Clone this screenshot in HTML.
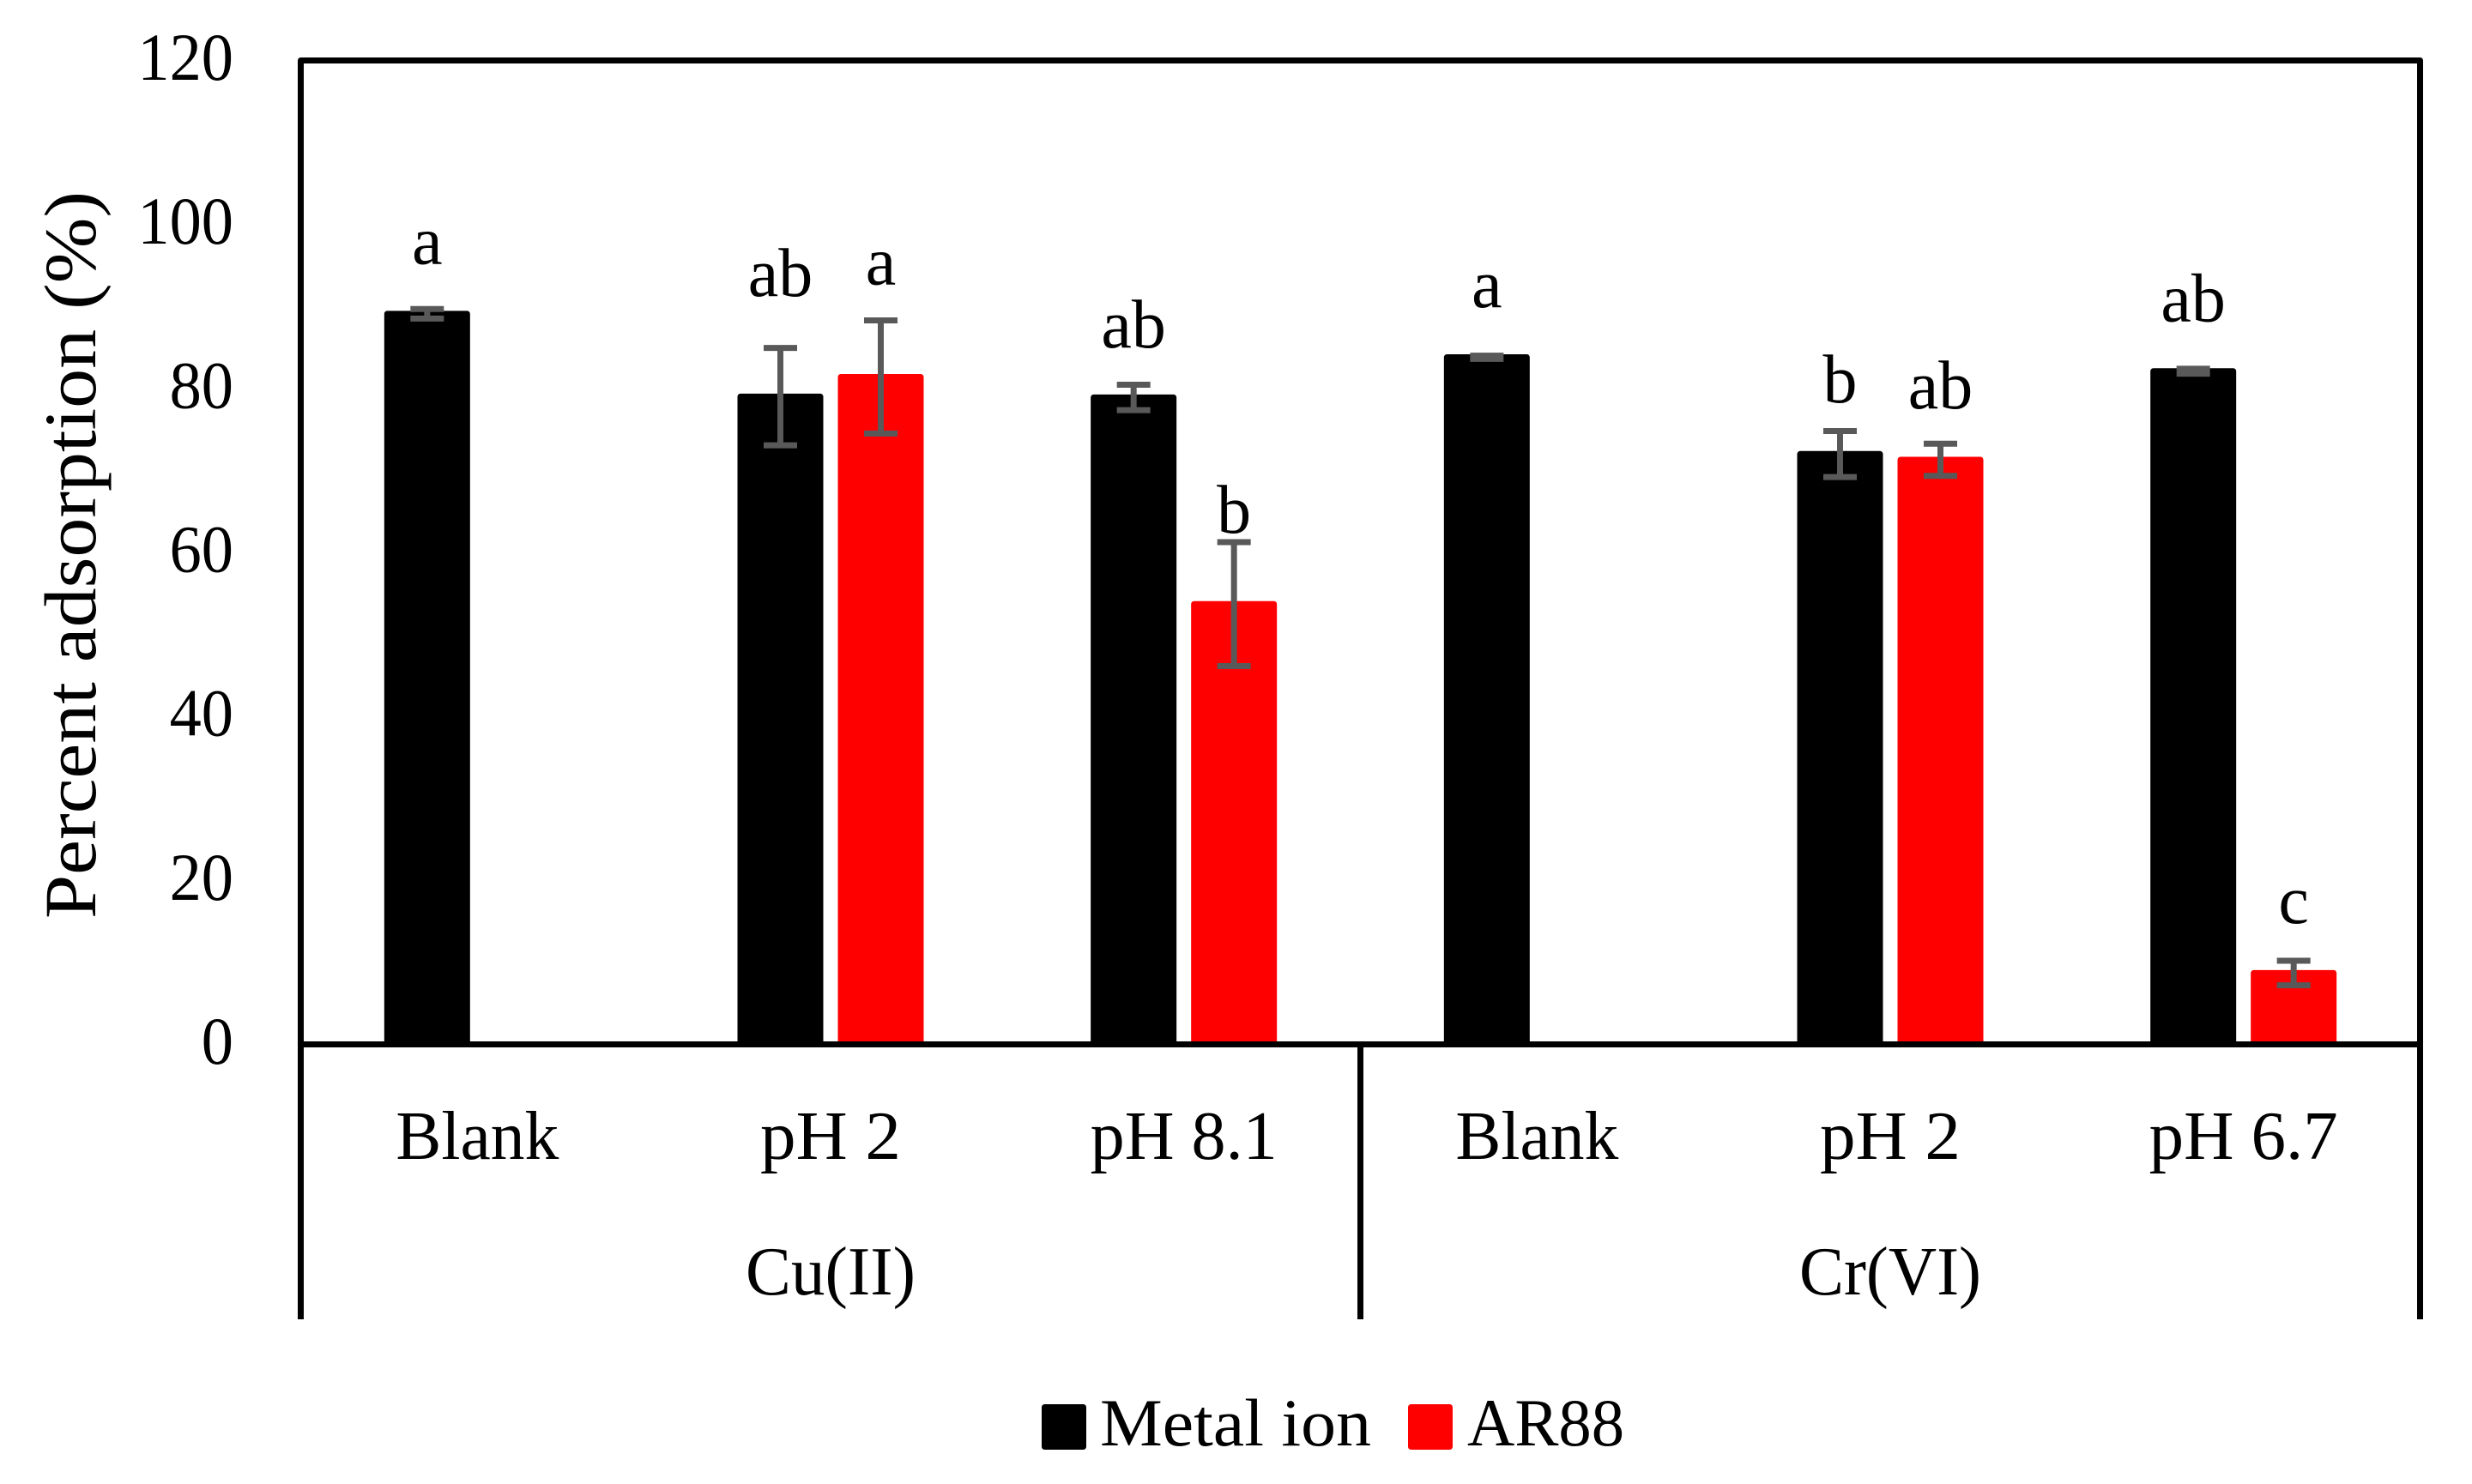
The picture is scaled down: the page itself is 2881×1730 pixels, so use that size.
<!DOCTYPE html>
<html lang="en">
<head>
<meta charset="utf-8">
<title>Percent adsorption chart</title>
<style>
html,body{margin:0;padding:0;background:#fff;width:2881px;height:1730px;overflow:hidden}
svg{display:block}
text{font-family:"Liberation Serif",serif;fill:#000}
</style>
</head>
<body>
<svg id="chart" xmlns="http://www.w3.org/2000/svg" width="2881" height="1730" viewBox="0 0 2881 1730"></svg>
<script>
const categories = ['Blank', 'pH 2', 'pH 8.1', 'Blank', 'pH 2', 'pH 6.7'];
const groups = ['Cu(II)', 'Cr(VI)'];
const yTicks = [0, 20, 40, 60, 80, 100, 120];
const metalValues = [89.1, 79.0, 78.9, 83.8, 72.0, 82.1];
const metalErrors = [0.58, 5.94, 1.55, 0.2, 2.8, 0.3];
const ar88Values = [null, 81.4, 53.7, null, 71.3, 8.7];
const ar88Errors = [null, 6.9, 7.56, null, 1.96, 1.5];
const metalLetters = ['a', 'ab', 'ab', 'a', 'b', 'ab'];
const ar88Letters = [null, 'a', 'b', null, 'ab', 'c'];
const metalLetterLevels = [95.2, 91.3, 85.0, 89.9, 78.3, 88.2];
const ar88LetterLevels = [null, 92.7, 62.4, null, 77.6, 14.8];

const svg = document.getElementById('chart');
const NS = 'http://www.w3.org/2000/svg';
const plotLeft = 350.5, plotRight = 2820.5, plotTop = 70.5, plotBottom = 1217.5, frameBottom = 1538;
const yMax = 120;
const strokeW = 7, barOuter = 100, barGap = 17, capW = 39;
const bandW = (plotRight - plotLeft) / categories.length;
const y = v => plotBottom - (v / yMax) * (plotBottom - plotTop);
const xCenter = i => plotLeft + (i + 0.5) * bandW;
const xSeries = (i, s) => xCenter(i) + (s === 0 ? -1 : 1) * (barOuter + barGap) / 2;

function make(tag, attrs, text) {
  const n = document.createElementNS(NS, tag);
  for (const k in attrs) n.setAttribute(k, attrs[k]);
  if (text !== undefined) n.textContent = text;
  svg.appendChild(n);
  return n;
}

const seriesList = [
  {key: 'metal', color: '#000000', values: metalValues, errors: metalErrors, letters: metalLetters, levels: metalLetterLevels},
  {key: 'ar88', color: '#ff0000', values: ar88Values, errors: ar88Errors, letters: ar88Letters, levels: ar88LetterLevels}
];

seriesList.forEach((s, si) => {
  s.values.forEach((v, i) => {
    if (v === null) return;
    const cx = xSeries(i, si);
    const bar = make('rect', {x: cx - (barOuter - strokeW) / 2, y: y(v), width: barOuter - strokeW, height: plotBottom - y(v), fill: s.color, stroke: s.color, 'stroke-width': strokeW, 'stroke-linejoin': 'round'});
    
    
  });
});

seriesList.forEach((s, si) => {
  s.values.forEach((v, i) => {
    if (v === null) return;
    const cx = xSeries(i, si);
    const hi = y(v + s.errors[i]), lo = y(v - s.errors[i]);
    const eb = make('path', {d: 'M' + (cx - capW / 2) + ' ' + hi + 'H' + (cx + capW / 2) + 'M' + cx + ' ' + hi + 'V' + lo + 'M' + (cx - capW / 2) + ' ' + lo + 'H' + (cx + capW / 2), fill: 'none', stroke: '#595959', 'stroke-width': strokeW});
    
    
    const lab = make('text', {x: cx, y: y(s.levels[i]), 'font-size': 80, 'text-anchor': 'middle'}, s.letters[i]);
    
    
  });
});

const frame = make('path', {d: 'M' + plotLeft + ' ' + frameBottom + 'V' + plotTop + 'H' + plotRight + 'V' + frameBottom, fill: 'none', stroke: '#000', 'stroke-width': strokeW, 'stroke-linejoin': 'round'});



const axisX = make('line', {x1: plotLeft, x2: plotRight, y1: plotBottom, y2: plotBottom, stroke: '#000', 'stroke-width': strokeW});



const divider = make('line', {x1: (plotLeft + plotRight) / 2, x2: (plotLeft + plotRight) / 2, y1: plotBottom, y2: frameBottom, stroke: '#000', 'stroke-width': strokeW});



yTicks.forEach(t => {
  const s = String(t);
  const lab = make('text', {x: 272, y: y(t) + 22.5, 'font-size': 78, 'text-anchor': 'end', textLength: s.length * 37.2, lengthAdjust: 'spacingAndGlyphs'}, s);
  
  
});

const yTitle = make('text', {transform: 'translate(111 647) rotate(-90)', x: 0, y: 0, 'font-size': 86, 'text-anchor': 'middle', textLength: 848, lengthAdjust: 'spacingAndGlyphs'}, 'Percent adsorption (%)');



const catWidths = {'Blank': 190, 'pH 2': 164, 'pH 8.1': 218, 'pH 6.7': 220};
categories.forEach((c, i) => {
  const lab = make('text', {x: xCenter(i), y: 1351, 'font-size': 80, 'text-anchor': 'middle', textLength: catWidths[c], lengthAdjust: 'spacingAndGlyphs'}, c);
  
  
});

const groupWidths = {'Cu(II)': 198, 'Cr(VI)': 212};
groups.forEach((g, i) => {
  const gx = plotLeft + (i + 0.5) * (plotRight - plotLeft) / groups.length;
  const lab = make('text', {x: gx, y: 1509, 'font-size': 80, 'text-anchor': 'middle', textLength: groupWidths[g], lengthAdjust: 'spacingAndGlyphs'}, g);
  
  
});

const swatchMetal = make('rect', {x: 1217.5, y: 1640.5, width: 45, height: 46, fill: '#000', stroke: '#000', 'stroke-width': strokeW, 'stroke-linejoin': 'round'});



const legendMetal = make('text', {x: 1282, y: 1685, 'font-size': 78, textLength: 316, lengthAdjust: 'spacingAndGlyphs'}, 'Metal ion');



const swatchAr = make('rect', {x: 1644.5, y: 1640.5, width: 45, height: 46, fill: '#ff0000', stroke: '#ff0000', 'stroke-width': strokeW, 'stroke-linejoin': 'round'});



const legendAr = make('text', {x: 1710, y: 1685, 'font-size': 78, textLength: 183, lengthAdjust: 'spacingAndGlyphs'}, 'AR88');


</script>
</body>
</html>
